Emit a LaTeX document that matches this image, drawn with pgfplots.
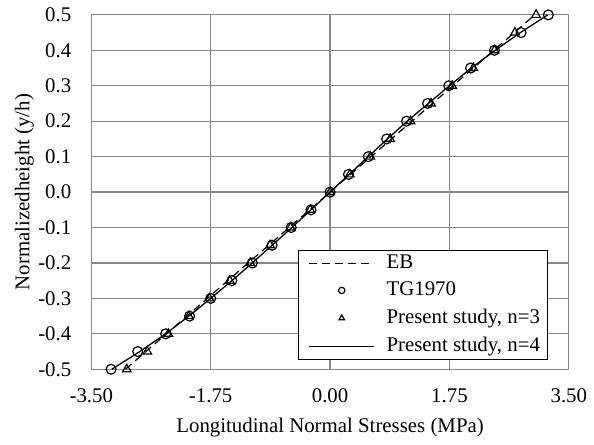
\documentclass[border=0pt]{standalone}
\usepackage{pgfplots}
\pgfplotsset{compat=1.18}
\usepackage{fontspec}
\setmainfont{Liberation Serif}
\definecolor{gridgray}{HTML}{898989}

\begin{document}
\fontsize{21}{25}\selectfont
\begin{tikzpicture}
\begin{axis}[
  at={(0pt,0pt)}, anchor=south west,
  scale only axis, width=481pt, height=357pt,
  xmin=-3.5, xmax=3.5, ymin=-0.5, ymax=0.5,
  xtick={-3.5,-1.75,0,1.75,3.5},
  xticklabels={-3.50,-1.75,0.00,1.75,3.50},
  ytick={-0.5,-0.4,-0.3,-0.2,-0.1,0,0.1,0.2,0.3,0.4,0.5},
  yticklabels={-0.5,-0.4,-0.3,-0.2,-0.1,0.0,0.1,0.2,0.3,0.4,0.5},
  grid=major,
  major grid style={draw=gridgray, line width=1.2pt},
  axis line style={draw=gridgray, line width=1.2pt},
  major tick length=0pt,
  xticklabel style={anchor=base, yshift=-33pt},
  yticklabel style={anchor=east, inner sep=0pt, xshift=-20pt},
  xlabel={Longitudinal Normal Stresses (MPa)},
  ylabel={Normalizedheight (y/h)},
  xlabel style={at={(axis description cs:0.5,-0.179)}, anchor=base},
  ylabel style={at={(axis description cs:-0.130,0.5)}, anchor=base},
  clip=false,
  legend cell align=left,
  legend image code/.code={%
      \path (-6pt,0pt) (75pt,0pt);
      \draw[mark repeat=2,mark phase=2,#1,mark size=3.2pt]
      plot coordinates {(0pt,0pt) (32.5pt,0pt) (65pt,0pt)};},
  legend style={at={(axis description cs:0.955,0.028)}, anchor=south east,
    draw=black, line width=0.8pt, fill=white,
    inner xsep=5pt, inner ysep=2pt, row sep=6.5pt,
    nodes={inner sep=2pt}},
]
% Euler-Bernoulli (linear)
\addplot[black, line width=1.2pt, dash pattern=on 8pt off 5pt] coordinates {
(-3.00,-0.50) (-2.70,-0.45) (-2.40,-0.40) (-2.10,-0.35) (-1.80,-0.30)
(-1.50,-0.25) (-1.20,-0.20) (-0.90,-0.15) (-0.60,-0.10) (-0.30,-0.05)
(0,0) (0.30,0.05) (0.60,0.10) (0.90,0.15) (1.20,0.20) (1.50,0.25)
(1.80,0.30) (2.10,0.35) (2.40,0.40) (2.70,0.45) (3.00,0.50)};
\addlegendentry{EB}
% Timoshenko & Goodier elasticity solution
\addplot[black, only marks, mark=o, mark size=5pt, line width=1.2pt] coordinates {
(-3.21,-0.50) (-2.82,-0.45) (-2.41,-0.40) (-2.06,-0.35) (-1.75,-0.30)
(-1.44,-0.25) (-1.14,-0.20) (-0.85,-0.15) (-0.57,-0.10) (-0.28,-0.05)
(0,0) (0.27,0.05) (0.56,0.10) (0.83,0.15) (1.12,0.20) (1.43,0.25)
(1.74,0.30) (2.06,0.35) (2.41,0.40) (2.80,0.45) (3.20,0.50)};
\addlegendentry{TG1970}
% present model, n = 3
\addplot[black, only marks, mark=triangle, mark size=5pt, line width=1.2pt] coordinates {
(-2.98,-0.50) (-2.68,-0.45) (-2.37,-0.40) (-2.07,-0.35) (-1.77,-0.30)
(-1.47,-0.25) (-1.17,-0.20) (-0.88,-0.15) (-0.58,-0.10) (-0.29,-0.05)
(0,0) (0.29,0.05) (0.59,0.10) (0.88,0.15) (1.18,0.20) (1.48,0.25)
(1.79,0.30) (2.10,0.35) (2.41,0.40) (2.71,0.45) (3.02,0.50)};
\addlegendentry{Present study, n=3}
% present model, n = 4
\addplot[black, line width=1.3pt] coordinates {
(-3.20,-0.50) (-2.79,-0.45) (-2.41,-0.40) (-2.07,-0.35) (-1.75,-0.30)
(-1.44,-0.25) (-1.14,-0.20) (-0.85,-0.15) (-0.56,-0.10) (-0.28,-0.05)
(0,0) (0.28,0.05) (0.56,0.10) (0.84,0.15) (1.13,0.20) (1.44,0.25)
(1.75,0.30) (2.07,0.35) (2.42,0.40) (2.79,0.45) (3.19,0.50)};
\addlegendentry{Present study, n=4}
\end{axis}
\path (-92pt,-73pt) rectangle (502pt,372pt);
\end{tikzpicture}
\end{document}
